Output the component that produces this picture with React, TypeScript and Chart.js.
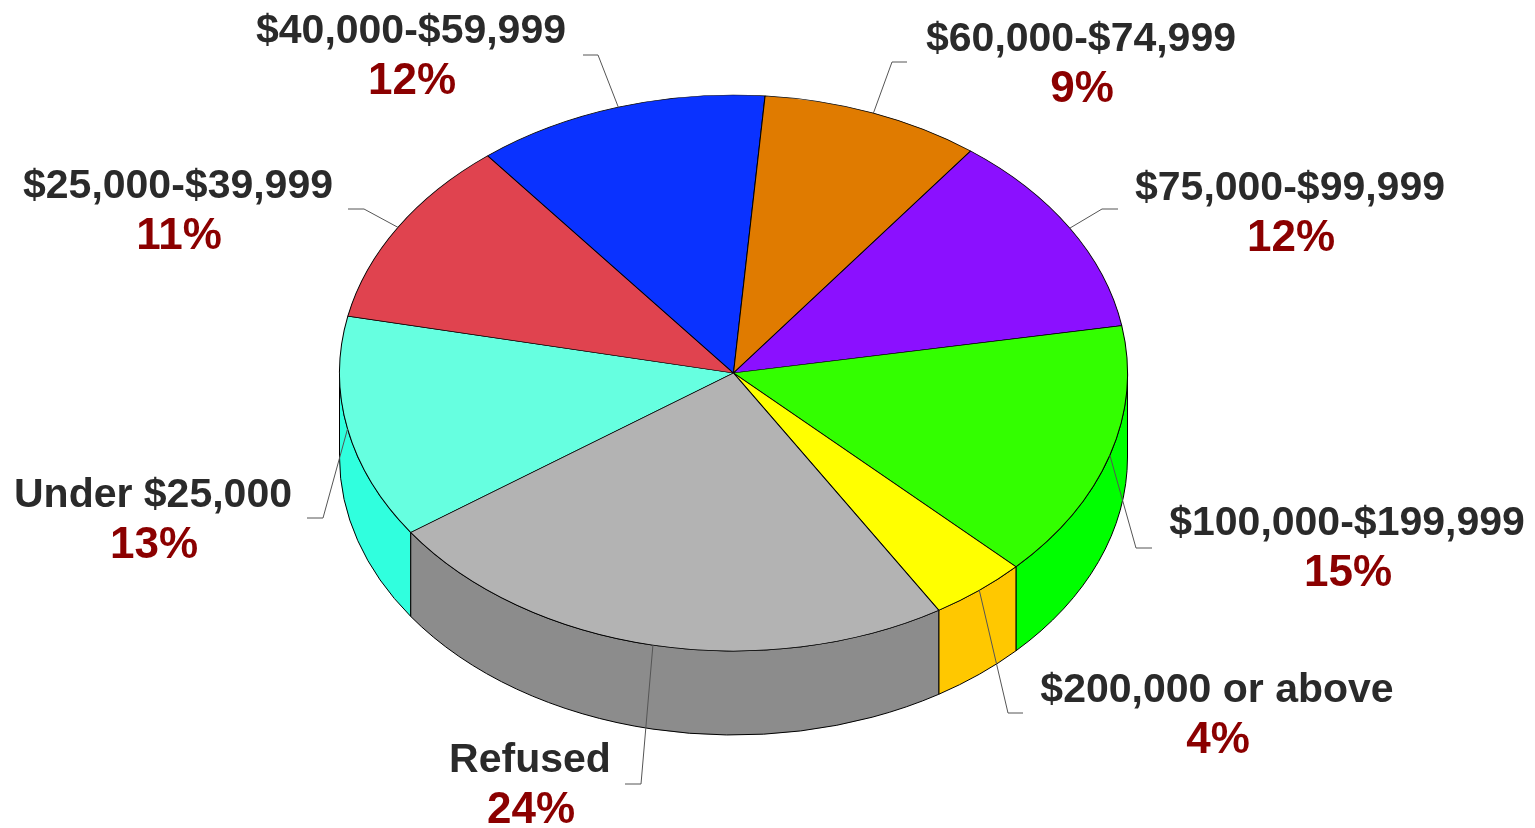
import React, { useEffect, useRef } from "react";
import { Chart, registerables } from "chart.js";

Chart.register(...registerables);

const categories = [
  "Under $25,000",
  "$25,000-$39,999",
  "$40,000-$59,999",
  "$60,000-$74,999",
  "$75,000-$99,999",
  "$100,000-$199,999",
  "$200,000 or above",
  "Refused",
];
const values = [13, 11, 12, 9, 12, 15, 4, 24];
const topColors = ["#66FFE0", "#E0434F", "#0A32FF", "#E07B00", "#8B10FF", "#33FF00", "#FFFF00", "#B3B3B3"];
const sideColors = ["#30FFDE", "#B8303A", "#0020D0", "#B06000", "#6A00D0", "#00FF00", "#FFC800", "#8C8C8C"];

// label anchor (centre x, baseline y), leader elbow (ex, ey), leader end x (lx)
const labelLayout = [
  { x: 153, y: 507, ex: 323, ey: 518, lx: 307 },
  { x: 178, y: 198, ex: 364, ey: 209, lx: 348 },
  { x: 411, y: 43, ex: 598, ey: 55, lx: 583 },
  { x: 1081, y: 51, ex: 892, ey: 62, lx: 907 },
  { x: 1290, y: 200, ex: 1102, ey: 209, lx: 1118 },
  { x: 1347, y: 535, ex: 1136, ey: 548, lx: 1152 },
  { x: 1217, y: 702, ex: 1008, ey: 713, lx: 1023 },
  { x: 530, y: 772, ex: 641, ey: 784, lx: 625 },
];

const CX = 733.5;
const CY = 373;
const RX = 394;
const RY = 278;
const DEPTH = 84;
const TWO_PI = Math.PI * 2;

const pie3d = {
  id: "pie3d",
  beforeDatasetsDraw(chart: any) {
    const ctx = chart.ctx as CanvasRenderingContext2D;
    const meta = chart.getDatasetMeta(0);
    // side walls
    meta.data.forEach((arc: any, i: number) => {
      const p = arc.getProps(["startAngle", "endAngle"], true);
      let s = p.startAngle % TWO_PI;
      if (s < 0) s += TWO_PI;
      const e = s + (p.endAngle - p.startAngle);
      for (const k of [0, TWO_PI]) {
        const a = Math.max(s, k);
        const b = Math.min(e, k + Math.PI);
        if (b > a) {
          ctx.save();
          ctx.beginPath();
          ctx.ellipse(CX, CY, RX, RY, 0, a, b, false);
          ctx.lineTo(CX + RX * Math.cos(b), CY + RY * Math.sin(b) + DEPTH);
          ctx.ellipse(CX, CY + DEPTH, RX, RY, 0, b, a, true);
          ctx.closePath();
          ctx.fillStyle = sideColors[i];
          ctx.fill();
          ctx.strokeStyle = "#000";
          ctx.lineWidth = 1;
          ctx.stroke();
          ctx.restore();
        }
      }
    });
    // squash the top face into an ellipse
    const el = meta.data[0];
    const q = el.getProps(["x", "y", "outerRadius"], true);
    ctx.save();
    ctx.translate(CX, CY);
    ctx.scale(RX / q.outerRadius, RY / q.outerRadius);
    ctx.translate(-q.x, -q.y);
  },
  afterDatasetsDraw(chart: any) {
    const ctx = chart.ctx as CanvasRenderingContext2D;
    ctx.restore();
    const meta = chart.getDatasetMeta(0);
    const total = values.reduce((a, b) => a + b, 0);
    meta.data.forEach((arc: any, i: number) => {
      const p = arc.getProps(["startAngle", "endAngle"], true);
      const m = (p.startAngle + p.endAngle) / 2;
      const sx = CX + RX * Math.cos(m);
      const sy = CY + RY * Math.sin(m);
      const L = labelLayout[i];
      ctx.save();
      ctx.beginPath();
      ctx.moveTo(sx, sy);
      ctx.lineTo(L.ex, L.ey);
      ctx.lineTo(L.lx, L.ey);
      ctx.strokeStyle = "#555";
      ctx.lineWidth = 1;
      ctx.stroke();
      ctx.textAlign = "center";
      ctx.textBaseline = "alphabetic";
      ctx.fillStyle = "#2a2a2a";
      ctx.font = "bold 41px 'Liberation Sans', Arial, sans-serif";
      ctx.fillText(categories[i], L.x, L.y);
      ctx.fillStyle = "#8B0000";
      ctx.font = "bold 44px 'Liberation Sans', Arial, sans-serif";
      ctx.fillText(Math.round((values[i] / total) * 100) + "%", L.x + 1, L.y + 51);
      ctx.restore();
    });
  },
};

export default function App() {
  const ref = useRef<HTMLCanvasElement>(null);
  useEffect(() => {
    if (!ref.current) return;
    const chart = new Chart(ref.current, {
      type: "pie",
      data: {
        labels: categories,
        datasets: [
          {
            data: values,
            backgroundColor: topColors,
            borderColor: "#000",
            borderWidth: 1,
            hoverOffset: 0,
            clip: false as any,
          },
        ],
      },
      options: {
        responsive: false,
        animation: false,
        rotation: 235,
        layout: { padding: { left: 340, right: 407, top: 20, bottom: 20 } },
        plugins: {
          legend: { display: false },
          tooltip: { enabled: false },
        },
        events: [],
      },
      plugins: [pie3d],
    });
    return () => chart.destroy();
  }, []);
  return (
    <div style={{ position: "fixed", left: 0, top: 0, width: 1535, height: 828, background: "#fff" }}>
      <canvas ref={ref} width={1535} height={828} style={{ display: "block" }} />
    </div>
  );
}
